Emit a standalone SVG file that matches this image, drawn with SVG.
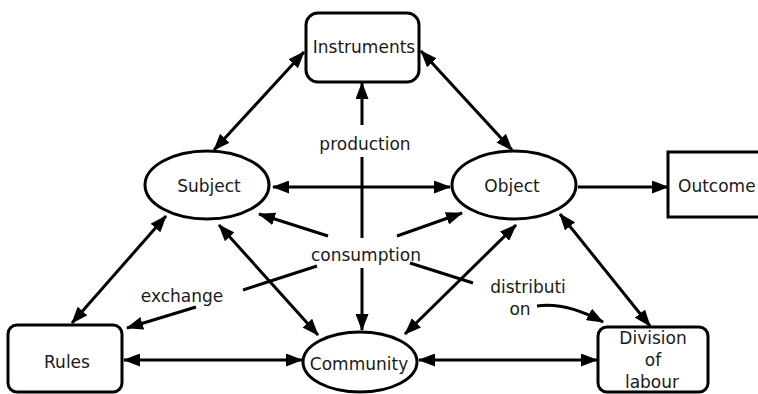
<svg xmlns="http://www.w3.org/2000/svg" width="758" height="394" viewBox="0 0 758 394">
  <defs>
    <marker id="ah" viewBox="0 0 17 13" refX="16" refY="6.5" markerWidth="17" markerHeight="13" markerUnits="userSpaceOnUse" orient="auto-start-reverse">
      <path d="M0,0 L17,6.5 L0,13 z" fill="#000"/>
    </marker>
  </defs>
  <style>
    .shape { fill: #fff; stroke: #000; stroke-width: 3; }
    .lbl { font-family: "DejaVu Sans", "Liberation Sans", sans-serif; font-size: 17px; fill: #1a1a1a; text-anchor: middle; }
    .ln { fill: none; stroke: #000; stroke-width: 3; }
    .both { marker-start: url(#ah); marker-end: url(#ah); }
    .end { marker-end: url(#ah); }
  </style>
  <rect width="758" height="394" fill="#fff"/>

  <g id="connectors">
    <path class="ln both" d="M214,150 L304,52"/>
    <path class="ln both" d="M421,51 L512,150"/>
    <path class="ln both" d="M273,187 L450,187"/>
    <path class="ln end" d="M578,187 L668,187"/>
    <path class="ln end" d="M362,125 L362,83"/>
    <path class="ln" d="M362,157 L362,238"/>
    <path class="ln end" d="M362,268 L362,330"/>
    <path class="ln end" d="M328,236 L259,214"/>
    <path class="ln end" d="M397,236 L462,213"/>
    <path class="ln both" d="M72,323 L166,216"/>
    <path class="ln both" d="M219,225 L318,335"/>
    <path class="ln both" d="M516,225 L405,334"/>
    <path class="ln both" d="M560,214 L650,326"/>
    <path class="ln both" d="M124,360 L302,360"/>
    <path class="ln both" d="M419,360 L597,360"/>
    <path class="ln" d="M317,266 L243,290"/>
    <path class="ln end" d="M196,307 L127,328"/>
    <path class="ln" d="M410,263 L473,283"/>
    <path class="ln end" d="M537,306 Q566,302 603,322"/>
  </g>

  <g id="edge-labels">
    <text class="lbl" x="365" y="150">production</text>
    <text class="lbl" x="366" y="261">consumption</text>
    <text class="lbl" x="182" y="302">exchange</text>
    <text class="lbl" x="528" y="293">distributi</text>
    <text class="lbl" x="520" y="315">on</text>
  </g>

  <g id="instruments">
    <rect class="shape" x="306" y="13" width="113" height="69" rx="12"/>
    <text class="lbl" x="364" y="53">Instruments</text>
  </g>
  <g id="subject">
    <ellipse class="shape" cx="207" cy="185" rx="62" ry="34"/>
    <text class="lbl" x="209" y="192">Subject</text>
  </g>
  <g id="object">
    <ellipse class="shape" cx="514" cy="185" rx="62" ry="34"/>
    <text class="lbl" x="512" y="192">Object</text>
  </g>
  <g id="outcome">
    <rect class="shape" x="668" y="152" width="100" height="65"/>
    <text class="lbl" x="678" y="192" style="text-anchor:start">Outcome</text>
  </g>
  <g id="rules">
    <rect class="shape" x="8" y="325" width="114" height="67" rx="9"/>
    <text class="lbl" x="67" y="368">Rules</text>
  </g>
  <g id="community">
    <ellipse class="shape" cx="360" cy="362" rx="57" ry="30"/>
    <text class="lbl" x="359" y="370">Community</text>
  </g>
  <g id="division">
    <rect class="shape" x="598" y="327" width="110" height="65" rx="9"/>
    <text class="lbl" x="653" y="344">Division</text>
    <text class="lbl" x="653" y="366">of</text>
    <text class="lbl" x="652" y="388">labour</text>
  </g>
</svg>
